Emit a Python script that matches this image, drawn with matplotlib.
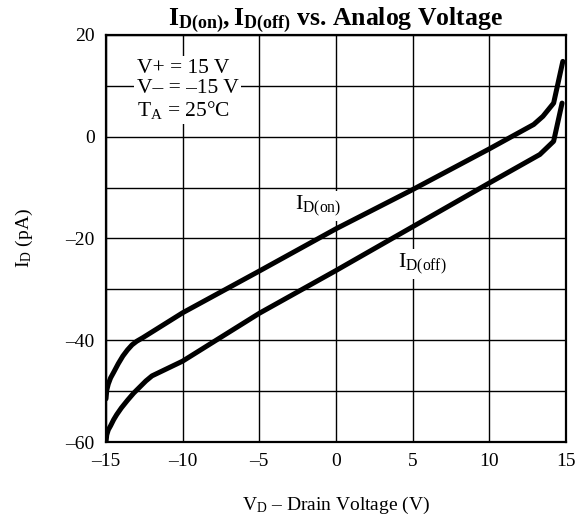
import matplotlib
matplotlib.use('Agg')
import matplotlib.pyplot as plt

plt.rcParams['font.family'] = ['Liberation Serif', 'DejaVu Serif']
plt.rcParams['mathtext.fontset'] = 'custom'
plt.rcParams['mathtext.rm'] = 'Liberation Serif'
plt.rcParams['mathtext.it'] = 'Liberation Serif:italic'
plt.rcParams['mathtext.bf'] = 'Liberation Serif:bold'

# I_D(on) curve (upper)
v_on = [-15, -14.95, -14.85, -14.7, -14.5, -14.2, -13.9, -13.6, -13.3, -13.0, -12.6,
        -10, -5, 0, 5, 10, 12.9, 13.5, 14.2, 14.8]
i_on = [-51.5, -49.8, -48.6, -47.4, -46.3, -44.6, -43.1, -41.9, -40.9, -40.2, -39.5,
        -34.6, -26.4, -18.1, -10.4, -2.4, 2.4, 4.0, 6.6, 14.8]

# I_D(off) curve (lower)
v_off = [-15, -14.95, -14.85, -14.7, -14.5, -14.3, -14.0, -13.6, -13.2, -12.8, -12.4, -12.0,
         -10, -5, 0, 5, 10, 13.3, 14.2, 14.75]
i_off = [-60, -58.6, -57.6, -56.8, -55.6, -54.6, -53.3, -51.8, -50.4, -49.2, -48.0, -47.0,
         -44.1, -34.7, -26.3, -17.7, -9.1, -3.5, -0.9, 6.6]

x_ticks = [-15, -10, -5, 0, 5, 10, 15]
y_ticks = [-60, -50, -40, -30, -20, -10, 0, 10, 20]


def dash(v):
    return str(v).replace('-', '\u2013')


fig = plt.figure(figsize=(5.84, 5.25), dpi=100)
ax = fig.add_axes([0.1815, 0.158, 0.7875, 0.7755])

ax.plot(v_on, i_on, color='black', lw=3.6, solid_capstyle='round', solid_joinstyle='round', zorder=5)
ax.plot(v_off, i_off, color='black', lw=3.6, solid_capstyle='round', solid_joinstyle='round', zorder=5)

ax.set_xlim(-15, 15)
ax.set_ylim(-60, 20)
ax.set_xticks(x_ticks)
ax.set_xticklabels([dash(v) for v in x_ticks])
ax.set_yticks(y_ticks)
ax.set_yticklabels([dash(v) if v % 20 == 0 else '' for v in y_ticks])
ax.tick_params(length=0, labelsize=14, pad=8)
ax.grid(True, color='black', lw=1.0)
for s in ax.spines.values():
    s.set_linewidth(1.6)

ax.set_xlabel('$\\mathrm{V_D}$ \u2013 Drain Voltage (V)', fontsize=14, labelpad=18)
ax.set_ylabel(r'$\mathrm{I_D}$ (pA)', fontsize=14, labelpad=22)
ax.set_title(r'$\mathbf{I_{D(on)}, I_{D(off)}}$ vs. Analog Voltage',
             fontsize=18.5, fontweight='bold', pad=4)

box = dict(facecolor='white', edgecolor='none', pad=2)
ax.text(-13.0, 9.2, 'V+ = 15 V\nV\u2013 = \u201315 V\n$\\mathrm{T_A}$ = 25\u00b0C',
        fontsize=15.5, va='center', ha='left', linespacing=1.08, bbox=box, zorder=3)
ax.text(-2.7, -13.6, r'$\mathrm{I_{D(on)}}$', fontsize=16, va='center', ha='left', bbox=box, zorder=3)
ax.text(4.05, -25.0, r'$\mathrm{I_{D(off)}}$', fontsize=16, va='center', ha='left', bbox=box, zorder=3)

fig.savefig('out.png', dpi=100)
